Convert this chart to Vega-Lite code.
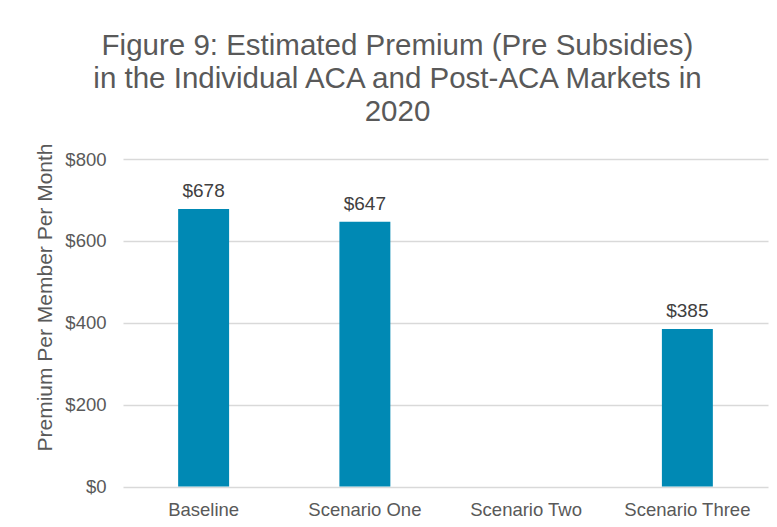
{
  "$schema": "https://vega.github.io/schema/vega-lite/v6.json",
  "width": 645,
  "height": 327.5,
  "autosize": "none",
  "padding": {"left": 123, "top": 159, "right": 9, "bottom": 40.5},
  "background": "white",
  "title": {
    "text": ["Figure 9: Estimated Premium (Pre Subsidies)", "in the Individual ACA and Post-ACA Markets in", "2020"],
    "font": "Liberation Sans",
    "fontSize": 29.5,
    "fontWeight": "normal",
    "color": "#595959",
    "lineHeight": 33,
    "anchor": "middle",
    "frame": "group",
    "dx": -48,
    "offset": 15
  },
  "data": {
    "values": [
      {"scenario": "Baseline", "premium": 678},
      {"scenario": "Scenario One", "premium": 647},
      {"scenario": "Scenario Two", "premium": null},
      {"scenario": "Scenario Three", "premium": 385}
    ]
  },
  "config": {
    "view": {"stroke": null},
    "font": "Liberation Sans"
  },
  "encoding": {
    "x": {
      "field": "scenario",
      "type": "nominal",
      "sort": null,
      "scale": {"domain": ["Baseline", "Scenario One", "Scenario Two", "Scenario Three"], "paddingInner": 0.684, "paddingOuter": 0.342},
      "axis": {
        "title": null,
        "labelAngle": 0,
        "labelFont": "Liberation Sans",
        "labelFontSize": 18.5,
        "labelColor": "#595959",
        "labelPadding": 14,
        "ticks": false,
        "domain": false,
        "grid": false
      }
    },
    "y": {
      "field": "premium",
      "type": "quantitative",
      "scale": {"domain": [0, 800]},
      "axis": {
        "title": "Premium Per Member Per Month",
        "titleFont": "Liberation Sans",
        "titleFontSize": 21,
        "titleFontWeight": "normal",
        "titleColor": "#595959",
        "titleX": -78,
        "titleY": 138,
        "titleAngle": -90,
        "titleAlign": "center",
        "titleBaseline": "middle",
        "values": [0, 200, 400, 600, 800],
        "format": "$,.0f",
        "labelFont": "Liberation Sans",
        "labelFontSize": 18.5,
        "labelColor": "#595959",
        "labelPadding": 17,
        "ticks": false,
        "domain": false,
        "grid": true,
        "gridColor": "#D9D9D9",
        "gridWidth": 1.3
      }
    }
  },
  "layer": [
    {"mark": {"type": "bar", "color": "#0089B4"}},
    {
      "mark": {"type": "text", "baseline": "alphabetic", "dy": -12, "fontSize": 19, "color": "#404040", "font": "Liberation Sans"},
      "encoding": {"text": {"field": "premium", "type": "quantitative", "format": "$,.0f"}}
    }
  ]
}
